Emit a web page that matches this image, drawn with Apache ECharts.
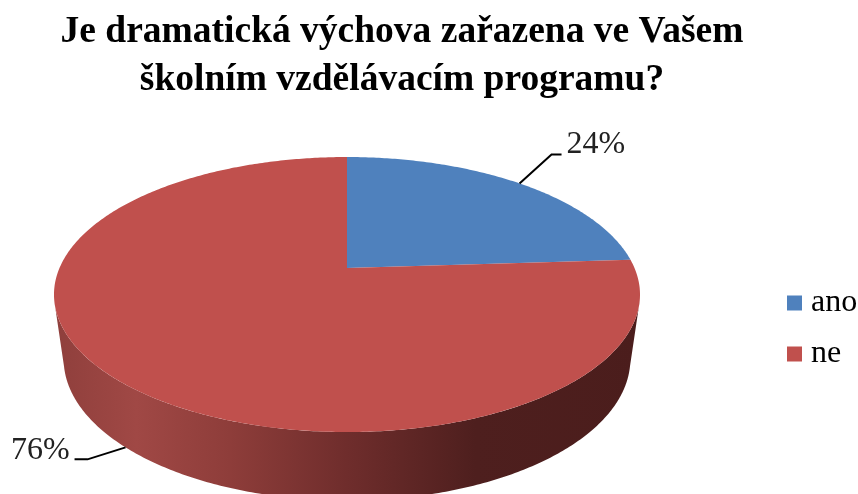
<!DOCTYPE html>
<html>
<head>
<meta charset="utf-8">
<style>
  html, body { margin: 0; padding: 0; background: #fff; }
  #chart { width: 858px; height: 494px; }
</style>
<script src="https://cdn.jsdelivr.net/npm/echarts@6/dist/echarts.min.js"></script>
</head>
<body>
<div id="chart"></div>
<script>
const titleLines = ["Je dramatická výchova zařazena ve Vašem", "školním vzdělávacím programu?"];
const categories = ["ano", "ne"];
const shares = [24, 76];
const colors = ["#4f81bd", "#c0504d"];

const FONT = '"Liberation Serif", "Times New Roman", serif';
const total = shares.reduce((a, b) => a + b, 0);

// tilted disc: apex of the slices sits above the middle of the ellipse
const disc = { cx: 347, cy: 268, a: 287.5, b: 132.4, p: 0.193 };
const rim = { cx: 347, cy: 332, a: 278, b: 136, p: 0.193 };

function project(d, angle) {
  const u = Math.sin(angle);
  const v = Math.cos(angle);
  const w = 1 + d.p * v;
  return [d.cx + (d.a * u) / w, d.cy - (d.b * v) / w];
}

function arc(d, from, to) {
  const steps = Math.max(2, Math.ceil(Math.abs(to - from) * 90));
  const pts = [];
  for (let i = 0; i <= steps; i++) {
    pts.push(project(d, from + ((to - from) * i) / steps));
  }
  return pts;
}

const sideFrom = (104 * Math.PI) / 180;
const sideTo = (256 * Math.PI) / 180;

function renderSlice(params, api) {
  const idx = params.seriesIndex;
  const before = shares.slice(0, idx).reduce((a, b) => a + b, 0);
  const start = (before / total) * 2 * Math.PI;
  const end = ((before + shares[idx]) / total) * 2 * Math.PI;
  const mid = (start + end) / 2;
  const children = [];

  // front wall, only where the slice faces the viewer
  const wallFrom = Math.max(start, sideFrom);
  const wallTo = Math.min(end, sideTo);
  if (wallTo > wallFrom) {
    children.push({
      type: "polygon",
      shape: { points: arc(disc, wallFrom, wallTo).concat(arc(rim, wallTo, wallFrom)) },
      style: {
        fill: new echarts.graphic.LinearGradient(0, 0, 1, 0, [
          { offset: 0, color: "#8f3f3c" },
          { offset: 0.14, color: "#a04845" },
          { offset: 0.3, color: "#8e3d3a" },
          { offset: 0.5, color: "#6f2d2c" },
          { offset: 0.72, color: "#4e1f1e" },
          { offset: 1, color: "#4b1d1c" }
        ])
      }
    });
  }

  children.push({
    type: "polygon",
    shape: { points: [[disc.cx, disc.cy]].concat(arc(disc, start, end)) },
    style: { fill: colors[idx] }
  });

  // leader line and share label; front slices take the lower rim as anchor
  const front = Math.cos(mid) < 0;
  const anchor = project(front ? rim : disc, mid);
  const dir = Math.sin(mid) >= 0 ? 1 : -1;
  const knee = [anchor[0] + dir * (front ? 38 : 32), anchor[1] + (front ? 12 : -29)];
  const tail = [knee[0] + dir * (front ? 13 : 10), knee[1]];
  children.push({
    type: "polyline",
    shape: { points: [anchor, knee, tail] },
    style: { fill: "none", stroke: "#000", lineWidth: 2 }
  });
  children.push({
    type: "text",
    x: tail[0] + dir * 5,
    y: tail[1] - (front ? 9 : 10),
    style: {
      text: shares[idx] + "%",
      font: "32px " + FONT,
      fill: "#222",
      align: dir > 0 ? "left" : "right",
      verticalAlign: "middle"
    }
  });

  return { type: "group", children };
}

const chart = echarts.init(document.getElementById("chart"), null, { renderer: "canvas" });
chart.setOption({
  animation: false,
  title: {
    text: titleLines.join("\n"),
    left: 397,
    top: 3,
    textAlign: "center",
    textStyle: {
      fontFamily: FONT,
      fontWeight: "bold",
      fontSize: 37.5,
      lineHeight: 48,
      color: "#000"
    }
  },
  legend: {
    orient: "vertical",
    left: 782,
    top: 282,
    itemWidth: 15,
    itemHeight: 15,
    itemGap: 19,
    icon: "rect",
    data: categories,
    textStyle: { fontFamily: FONT, fontSize: 32, color: "#000", padding: [0, 0, 0, 4] }
  },
  series: categories.map((name, i) => ({
    name,
    type: "custom",
    coordinateSystem: "none",
    silent: true,
    itemStyle: { color: colors[i] },
    renderItem: renderSlice,
    data: [shares[i]]
  }))
});
</script>
</body>
</html>
